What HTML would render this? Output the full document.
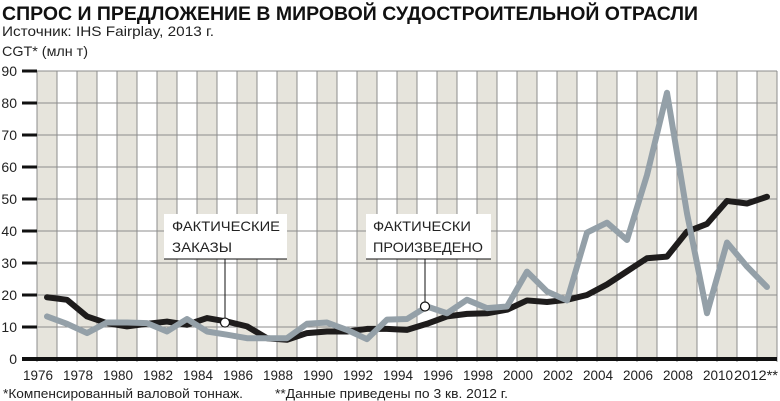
<!DOCTYPE html>
<html><head><meta charset="utf-8"><style>
body{margin:0;background:#fff;}
svg{display:block;font-family:"Liberation Sans",sans-serif;}
</style></head><body>
<svg id="chart" width="780" height="401" viewBox="0 0 780 401" xmlns="http://www.w3.org/2000/svg">
<text x="2" y="20" font-size="19" font-weight="bold" textLength="696" lengthAdjust="spacingAndGlyphs" fill="#111">СПРОС И ПРЕДЛОЖЕНИЕ В МИРОВОЙ СУДОСТРОИТЕЛЬНОЙ ОТРАСЛИ</text>
<text x="2" y="36" font-size="14" textLength="212" lengthAdjust="spacingAndGlyphs" fill="#222">Источник: IHS Fairplay, 2013 г.</text>
<text x="2" y="56" font-size="14" textLength="86" lengthAdjust="spacingAndGlyphs" fill="#222">CGT* (млн т)</text>
<g id="bands"></g><g id="grid"></g><g id="yaxis"></g><g id="xaxis"></g>
<g id="series"></g>
<g>
<rect x="164" y="214" width="123" height="45" fill="#fff"/>
<line x1="164" y1="259" x2="287" y2="259" stroke="#111" stroke-width="1"/>
<text x="172" y="231" font-size="14" fill="#222" textLength="108" lengthAdjust="spacingAndGlyphs">ФАКТИЧЕСКИЕ</text>
<text x="172" y="252" font-size="14" fill="#222" textLength="60" lengthAdjust="spacingAndGlyphs">ЗАКАЗЫ</text>
</g>
<g>
<rect x="366" y="214" width="125" height="45" fill="#fff"/>
<line x1="366" y1="259" x2="491" y2="259" stroke="#111" stroke-width="1"/>
<text x="373" y="231" font-size="14" fill="#222" textLength="98" lengthAdjust="spacingAndGlyphs">ФАКТИЧЕСКИ</text>
<text x="373" y="252" font-size="14" fill="#222" textLength="110" lengthAdjust="spacingAndGlyphs">ПРОИЗВЕДЕНО</text>
</g>
<g id="markers"></g>
<text x="3" y="398" font-size="12.5" textLength="240" lengthAdjust="spacingAndGlyphs" fill="#222">*Компенсированный валовой тоннаж.</text>
<text x="275" y="398" font-size="12.5" textLength="233" lengthAdjust="spacingAndGlyphs" fill="#222">**Данные приведены по 3 кв. 2012 г.</text>
</svg>
<script>
const years = [1976,1977,1978,1979,1980,1981,1982,1983,1984,1985,1986,1987,1988,1989,1990,1991,1992,1993,1994,1995,1996,1997,1998,1999,2000,2001,2002,2003,2004,2005,2006,2007,2008,2009,2010,2011,2012];
const produced = [19.3,18.5,13.3,11.2,10.2,11,11.7,10.7,12.8,11.7,10.2,6.5,6,8.1,8.6,8.6,9.4,9.4,9.1,11,13.3,14.1,14.3,15.4,18.3,17.8,18.5,20,23.3,27.4,31.5,32,39.8,42.2,49.4,48.6,50.7];
const orders = [13.3,11,8.1,11.4,11.4,11.2,8.6,12.5,8.6,7.6,6.5,6.5,6.5,11,11.4,9.1,6.2,12.3,12.5,16.4,14.3,18.5,15.9,16.4,27.3,21.1,18.3,39.5,42.6,37.2,57.5,83.2,45.5,14.3,36.4,28.9,22.5];
const yTicks = [0,10,20,30,40,50,60,70,80,90];
const xTickLabels = ["1976","1978","1980","1982","1984","1986","1988","1990","1992","1994","1996","1998","2000","2002","2004","2006","2008","2010","2012**"];

const NS="http://www.w3.org/2000/svg";
const L=37, COLW=20, Y0=359, YMAX=90, YTOP=71;
const xCol = i => L + i*COLW;
const xC = i => L + i*COLW + COLW/2;
const y = v => Y0 - (v/YMAX)*(Y0-YTOP);
const R = L + years.length*COLW;
function mk(tag, attrs, parent){const e=document.createElementNS(NS,tag);for(const k in attrs)e.setAttribute(k,attrs[k]);parent.appendChild(e);return e;}
const bands=document.getElementById('bands'), grid=document.getElementById('grid'), ya=document.getElementById('yaxis'), xa=document.getElementById('xaxis'), ser=document.getElementById('series'), mkr=document.getElementById('markers');
years.forEach((yr,i)=>{
  if(i%2===0){const r=mk('rect',{x:xCol(i),y:YTOP,width:COLW,height:Y0-YTOP,fill:'#e6e4dc'},bands);
    
    }
});
for(let i=0;i<=years.length;i++){const l=mk('line',{x1:xCol(i),y1:YTOP,x2:xCol(i),y2:Y0+3,stroke:'#8c8c8c','stroke-width':1},grid);
  
  }
yTicks.forEach(v=>{
  const g=mk('line',{x1:L,y1:y(v),x2:R,y2:y(v),stroke:'#8c8c8c','stroke-width':1},grid);
  
  
  const t=mk('line',{x1:22,y1:y(v),x2:L,y2:y(v),stroke:'#111','stroke-width':3},ya);
  
  
  const tx=mk('text',{x:17,y:y(v)+5,'font-size':14,'text-anchor':'end',fill:'#222'},ya);
  tx.textContent=v;
  
  
});
const ax=mk('line',{x1:22,y1:Y0,x2:R,y2:Y0,stroke:'#111','stroke-width':4},xa);


xTickLabels.forEach((lab,k)=>{
  const long=lab.length>4;
  const t=mk('text',{x:long?734:xCol(k*2)+1,y:380,'font-size':13.5,'text-anchor':long?'start':'middle',fill:'#222'},xa);
  if(long){t.setAttribute('textLength','44');t.setAttribute('lengthAdjust','spacingAndGlyphs');}
  t.textContent=lab;
  
  
});
function line(data,color,name){
  const d=data.map((v,i)=>(i?'L':'M')+xC(i)+','+y(v)).join(' ');
  const p=mk('path',{d:d,fill:'none',stroke:color,'stroke-width':6,'stroke-linejoin':'round','stroke-linecap':'round'},ser);
  
  
}
line(produced,'#1e1c1c','produced-line');
line(orders,'#94a0a8','orders-line');
function leader(xv,yv,name){
  const l=mk('line',{x1:xv,y1:259,x2:xv,y2:yv,stroke:'#111','stroke-width':1},mkr);
  
  
  const c=mk('circle',{cx:xv,cy:yv,r:4.5,fill:'#fff',stroke:'#111','stroke-width':1.2},mkr);
  
  
}
leader(225,y(11.7)+1,'orders-annotation');
leader(425,y(16.4),'produced-annotation');
</script>
</body></html>
